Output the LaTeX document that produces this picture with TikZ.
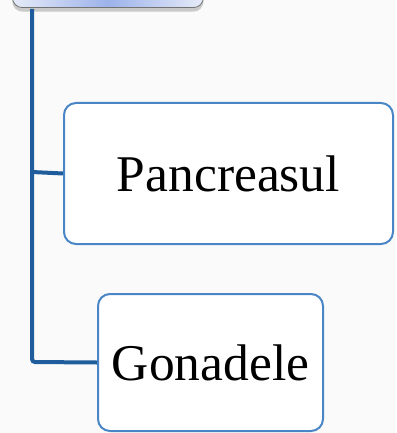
\documentclass[tikz,border=0pt]{standalone}
\usepackage{fontspec}
\setmainfont{Liberation Serif}
\usetikzlibrary{shadows}
\definecolor{bgc}{HTML}{FAFAFA}
\definecolor{linec}{HTML}{1F5C9C}
\definecolor{boxc}{HTML}{4A86C6}
\definecolor{topmid}{HTML}{9CB2EA}
\definecolor{topedge}{HTML}{E6EBF8}
\tikzset{
  box/.style={draw=boxc, line width=2pt, rounded corners=12pt, fill=white,
    font=\fontsize{51.5}{60}\selectfont, text=black, inner sep=0pt},
  conn/.style={draw=linec, line width=4pt, rounded corners=3pt},
  topbox/.style={draw=black!55, line width=0.8pt, rounded corners=10pt,
    left color=topedge, right color=topedge, middle color=topmid,
    drop shadow={shadow xshift=0pt, shadow yshift=-4pt, opacity=0.4}, inner sep=0pt}
}
\begin{document}
\begin{tikzpicture}[x=1pt,y=-1pt]
\useasboundingbox (0,0) rectangle (396,433);
\clip (0,0) rectangle (396,433);
\fill[bgc] (0,0) rectangle (396,433);
\node[topbox, minimum width=191pt, minimum height=50pt, anchor=south west] (top) at (12,8) {};
\coordinate (j0) at (32,9);
\coordinate (j1) at (32,172);
\coordinate (j2) at (32,362);
\node[box, minimum width=329pt, minimum height=141pt] (pan) at (228.5,173.5) {Pancreasul};
\node[box, minimum width=225pt, minimum height=137pt] (gon) at (210.5,362.5) {Gonadele};
\draw[conn] (j0) -- (j2) -- (gon.west);
\draw[conn, rounded corners=0pt] (j1) -- (pan.west);
\end{tikzpicture}
\end{document}
